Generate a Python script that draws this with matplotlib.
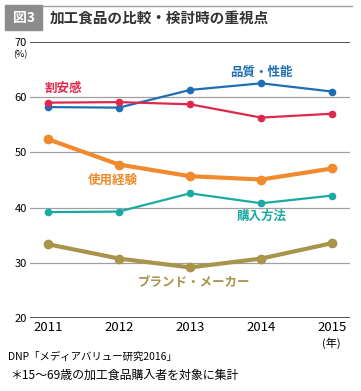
import matplotlib
matplotlib.use("Agg")
from matplotlib import pyplot as plt
from matplotlib.patches import Rectangle

plt.rcParams['font.family'] = ['Noto Sans CJK JP', 'DejaVu Sans']

years = [2011, 2012, 2013, 2014, 2015]
quality = [58.2, 58.1, 61.3, 62.5, 61.0]
value_for_money = [59.0, 59.1, 58.7, 56.3, 57.0]
experience = [52.4, 47.8, 45.7, 45.1, 47.1]
purchase_way = [39.2, 39.3, 42.6, 40.8, 42.2]
brand = [33.4, 30.8, 29.2, 30.8, 33.6]

series = [
    ('品質・性能', quality, '#1f6db4', 1.6, 4.5, (2014.0, 64.4)),
    ('割安感', value_for_money, '#e0284c', 1.6, 4.5, (2011.22, 61.6)),
    ('使用経験', experience, '#f08a2c', 3.0, 6.0, (2011.92, 45.0)),
    ('購入方法', purchase_way, '#19aaa4', 1.6, 4.5, (2014.0, 38.5)),
    ('ブランド・メーカー', brand, '#a8944a', 3.0, 6.0, (2013.05, 26.4)),
]

fig = plt.figure(figsize=(3.61, 3.91), dpi=100)
ax = fig.add_axes([0.083, 0.186, 0.887, 0.707])

# grid lines
for v in [30, 40, 50, 60]:
    ax.axhline(v, color='#a0a0a0', lw=0.9, zorder=1)
for v in [20, 70]:
    ax.axhline(v, color='#222222', lw=1.1, zorder=1)

for name, vals, col, lw, ms, pos in series:
    ax.plot(years, vals, color=col, lw=lw, marker='o', ms=ms, zorder=3)
    ax.text(pos[0], pos[1], name, color=col, fontsize=9, fontweight='bold',
            ha='center', va='center')

ax.set_xlim(2010.75, 2015.25)
ax.set_ylim(20, 70)
ax.set_yticks([20, 30, 40, 50, 60, 70])
ax.set_xticks(years)
ax.tick_params(axis='y', length=0, labelsize=8, pad=2)
ax.tick_params(axis='x', length=0, labelsize=9.5, pad=2)
for s in ax.spines.values():
    s.set_visible(False)

fig.text(20 / 361, 1 - 55 / 391, '(%)', fontsize=6.5, ha='center', va='center')
fig.text(331 / 361, 1 - 343 / 391, '(年)', fontsize=8, ha='center', va='center')

# title
fig.patches.append(Rectangle((5 / 361, 1 - 30 / 391), 37 / 361, 25 / 391,
                             transform=fig.transFigure, color='#8c8c8c', zorder=0))
fig.add_artist(plt.Line2D([42 / 361, 352 / 361], [1 - 6 / 391, 1 - 6 / 391],
                          transform=fig.transFigure, color='#a0a0a0', lw=1))
fig.text(23.5 / 361, 1 - 18 / 391, '図3', color='white', fontsize=10, fontweight='bold',
         ha='center', va='center')
fig.text(50 / 361, 1 - 18 / 391, '加工食品の比較・検討時の重視点', fontsize=10.5,
         fontweight='bold', color='#333333', ha='left', va='center')

fig.text(8 / 361, 1 - 357 / 391, 'DNP「メディアバリュー研究2016」', fontsize=7.5,
         ha='left', va='center')
fig.text(10 / 361, 1 - 375 / 391, '＊15～69歳の加工食品購入者を対象に集計', fontsize=8.6,
         ha='left', va='center')

fig.savefig('out.png', dpi=100)
